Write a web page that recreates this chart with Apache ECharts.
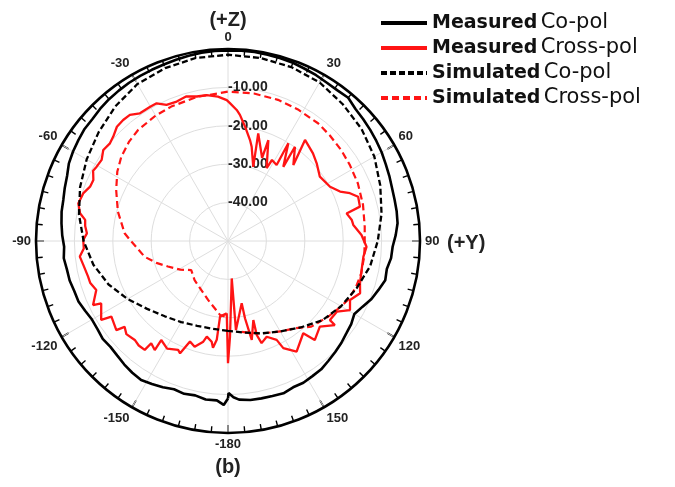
<!DOCTYPE html>
<html><head><meta charset="utf-8">
<script src="https://cdn.jsdelivr.net/npm/echarts@6/dist/echarts.min.js"></script>
<style>html,body{margin:0;padding:0;background:#fff}#c{width:675px;height:487px}</style>
</head><body><div id="c"></div>
<script>
// ---- data: [angle in degrees, level in dB] ----
const angleTickLabels = [0, 30, 60, 90, 120, 150, -180, -150, -120, -90, -60, -30];
const radialTickLabels = [-40, -30, -20, -10];
const seriesNames = ['Measured Co-pol', 'Measured Cross-pol', 'Simulated Co-pol', 'Simulated Cross-pol'];

const measuredCoPol = [
  [-180,-9.0],[-179.5,-8.5],[-178.5,-7.3],[-176,-8.4],[-172,-8.3],[-168,-8.9],[-164,-8.6],[-160,-8.9],[-156,-8.3],
  [-152,-7.8],[-148,-7.3],[-144,-7.6],[-140,-8.0],[-136,-8.5],[-132,-8.8],[-128,-8.6],[-124,-9.0],[-120,-9.1],
  [-116,-8.6],[-112,-8.0],[-108,-7.9],[-104,-7.5],[-100,-7.4],[-96,-7.0],[-92,-7.3],[-88,-6.8],[-84,-6.4],
  [-80,-6.0],[-76,-5.8],[-72,-5.3],[-68,-4.8],[-64,-3.9],[-60,-3.4],[-56,-3.0],[-52,-2.6],[-48,-2.5],[-44,-2.1],
  [-40,-1.8],[-36,-1.6],[-32,-1.4],[-28,-1.3],[-24,-1.2],[-20,-1.1],[-16,-0.9],[-12,-0.7],[-8,-0.5],[-4,-0.4],
  [0,-0.4],[4,-0.3],[8,-0.3],[12,-0.4],[16,-0.5],[20,-0.6],[24,-0.9],[28,-1.1],[32,-1.4],[36,-1.5],[40,-1.3],
  [44,-2.2],[48,-2.6],[52,-3.0],[56,-3.4],[60,-3.8],[64,-4.3],[68,-4.7],[72,-5.1],[76,-5.3],[80,-5.4],[84,-5.6],
  [88,-6.3],[92,-7.1],[96,-7.3],[100,-8.0],[104,-7.8],[108,-8.8],[112,-9.7],[116,-11.0],[120,-12.0],[124,-11.3],
  [128,-10.9],[132,-10.3],[136,-9.8],[140,-9.3],[144,-8.7],[148,-8.5],[152,-8.2],[156,-8.3],[160,-7.8],[164,-8.0],
  [168,-8.1],[172,-8.2],[176,-8.6],[178,-9.3],[179.8,-10.4],[180,-9.0]
];

const measuredCrossPol = [
  [-179,-31.2],[-174,-30.2],[-173.5,-24.1],[-172,-21.9],[-170.8,-23.4],[-167.5,-24.5],[-166.2,-23],[-164.9,-23.3],
  [-162.5,-21.1],[-159.3,-22],[-156.9,-18.2],[-155.4,-18.8],[-150.5,-17.8],[-146,-18.9],[-146.1,-15.8],[-143.1,-16.7],
  [-142.6,-14.3],[-139.5,-14.2],[-136.7,-14.6],[-132.5,-14.1],[-129.7,-15],[-128.6,-12.8],[-123,-13.8],[-121.9,-11.1],
  [-116.2,-13.2],[-115.4,-11.1],[-110.4,-13.4],[-107,-12.5],[-104.3,-12.4],[-100,-11.9],[-96,-11.2],[-93,-12.4],
  [-89.6,-12.3],[-86.9,-13.2],[-84,-12.6],[-81.6,-12.4],[-79.4,-10.8],[-75.9,-9.8],[-71.8,-10.3],[-68.5,-11.4],
  [-65.6,-11.5],[-62.5,-10.4],[-60.5,-10.7],[-57.3,-10.9],[-53.9,-9.8],[-50.4,-10.1],[-47.7,-9.6],[-44.2,-8.5],
  [-40.9,-8.3],[-37.9,-8.4],[-34.6,-9.6],[-30.1,-9.6],[-27.4,-9.6],[-24.3,-11.1],[-20.2,-11.3],[-16,-10.8],
  [-12.2,-11.5],[-8.3,-11.6],[-4,-12.3],[-0.5,-13.3],[0.8,-14.1],[3.8,-15.8],[5.4,-17],[8.5,-19.9],[12.3,-23.1],
  [14.1,-24.7],[18.8,-29.6],[15.7,-20.9],[22.3,-26.6],[21.8,-21.7],[27.9,-28.5],[28.5,-26],[32.6,-26.5],[31.7,-20.1],
  [36.7,-25.9],[35.4,-19.9],[40.7,-23.9],[37.3,-16.9],[44.1,-18.2],[48.8,-19.3],[55,-20.8],[62,-19.9],[66.2,-18.1],
  [68.6,-15.9],[71.2,-14.2],[75.4,-14.5],[76.9,-18.3],[80.4,-17.3],[82.7,-17.1],[87.4,-15.2],[92.4,-13.9],[96.6,-14.5],
  [102.2,-14.4],[107.8,-13.9],[111.6,-13],[115.8,-14.7],[119.5,-13.5],[123,-16.2],[127.8,-16.4],[128.2,-14.6],
  [133,-17.3],[138.8,-15.7],[140.8,-19],[148.2,-16.1],[152.7,-18.6],[153.8,-21.3],[158,-23.1],[161.8,-22],
  [163,-24.4],[162.2,-28.4],[166.5,-23.5],[167.6,-29.4],[167.6,-33.4],[174.9,-26.7],[174.3,-40.2],[178.8,-25.1],
  [180,-18.2],[-179,-31.2]
];

const simulatedCoPol = [
  [-180,-26.6],[-170,-26.8],[-160,-26.5],[-150,-25.6],[-140,-24.4],[-130,-22.5],[-120,-19.8],[-110,-16.9],
  [-100,-14.4],[-90,-12.4],[-80,-10.6],[-70,-9.0],[-60,-7.5],[-50,-6.0],[-40,-4.3],[-30,-2.8],[-20,-2.1],
  [-10,-1.6],[0,-1.5],[10,-1.6],[20,-1.8],[30,-2.3],[40,-3.5],[50,-4.6],[60,-6.0],[70,-7.8],[80,-9.4],
  [90,-11.0],[100,-12.4],[110,-14.3],[120,-16.0],[130,-17.9],[140,-20.6],[150,-22.8],[160,-24.4],[170,-25.8],[180,-26.6]
];

const simulatedCrossPol = [
  [-177.5,-30.3],[-174,-30.6],[-161.3,-33.8],[-139.5,-36.6],[-128.3,-37.8],[-121,-35.5],[-113,-33],[-107,-30.5],
  [-100.7,-27.9],[-89.4,-24.5],[-85.7,-23],[-75,-20.3],[-65.5,-18],[-58,-16],[-51.7,-14.6],[-45,-13.5],[-39,-12.8],
  [-30,-12.3],[-22.9,-12],[-12,-11.6],[-3.9,-11.5],[0,-11.1],[10,-11],[19.5,-11],[28,-11.2],[37.4,-11.4],[44,-11.8],
  [51.2,-12.2],[58,-12.6],[66.1,-13],[75,-13.6],[84,-14.2],[90,-14.4],[96,-14.3],[103.6,-14.3],[110,-14.6],
  [116.2,-15.2],[121,-16.2],[127.1,-17.3],[135.8,-18.9],[142.6,-21.4],[150,-22.8],[160.2,-24.4],[167,-25.5],[172.5,-26.2]
];

// ---- build ----
const toPolar = arr => arr.map(([a, v]) => [v, a < 0 ? a + 360 : a]);
const angleLabel = v => {
  const a = v > 180 ? v - 360 : (v === 180 ? -180 : v);
  return angleTickLabels.indexOf(a) >= 0 ? String(a) : '';
};

const chart = echarts.init(document.getElementById('c'));
const RED = '#ff1414';
chart.setOption({
  animation: false,
  backgroundColor: '#fff',
  polar: { center: [228, 241], radius: 192 },
  angleAxis: {
    type: 'value', min: 0, max: 360, interval: 30, startAngle: 90, clockwise: true,
    axisLine: { lineStyle: { color: '#000', width: 2.6 } },
    axisTick: { show: true, inside: true, length: 8, lineStyle: { color: '#000', width: 1.6 } },
    minorTick: { show: true, splitNumber: 6, length: 6, lineStyle: { color: '#000', width: 1.4 } },
    axisLabel: { margin: 5, fontSize: 13, fontWeight: 'bold', color: '#222', fontFamily: 'Liberation Sans', formatter: angleLabel },
    splitLine: { show: true, lineStyle: { color: '#dedede', width: 1 } }
  },
  radiusAxis: {
    type: 'value', min: -50, max: 0, interval: 10,
    axisLine: { show: false }, axisTick: { show: false },
    axisLabel: {
      margin: 0, align: 'left', verticalAlign: 'middle',
      fontSize: 14, fontWeight: 'bold', color: '#222', fontFamily: 'Liberation Sans',
      formatter: v => radialTickLabels.indexOf(v) >= 0 ? v.toFixed(2) : ''
    },
    splitLine: { show: true, lineStyle: { color: '#dedede', width: 1 } }
  },
  legend: {
    orient: 'vertical', left: 374, top: 7, itemWidth: 46, itemHeight: 14, itemGap: 3,
    data: seriesNames,
    lineStyle: { width: 4 },
    itemStyle: { opacity: 0 },
    formatter: name => { const p = name.split(' '); return '{b|' + p[0] + '} {r|' + p[1] + '}'; },
    textStyle: {
      color: '#111', lineHeight: 22,
      rich: {
        b: { fontFamily: 'DejaVu Sans', fontWeight: 'bold', fontSize: 19, color: '#111' },
        r: { fontFamily: 'DejaVu Sans', fontSize: 21, color: '#111' }
      }
    }
  },
  graphic: [
    { type: 'text', x: 228, y: 20, style: { text: '(+Z)', align: 'center', verticalAlign: 'middle', font: 'bold 20px "Liberation Sans"', fill: '#222' } },
    { type: 'text', x: 447, y: 243, style: { text: '(+Y)', align: 'left', verticalAlign: 'middle', font: 'bold 20px "Liberation Sans"', fill: '#222' } },
    { type: 'text', x: 228, y: 467, style: { text: '(b)', align: 'center', verticalAlign: 'middle', font: 'bold 20px "Liberation Sans"', fill: '#222' } }
  ],
  series: [
    { name: seriesNames[3], type: 'line', coordinateSystem: 'polar', symbol: 'none', z: 2,
      data: toPolar(simulatedCrossPol), lineStyle: { color: RED, width: 2.2, type: [7, 4] }, itemStyle: { color: RED } },
    { name: seriesNames[1], type: 'line', coordinateSystem: 'polar', symbol: 'none', z: 3,
      data: toPolar(measuredCrossPol), lineStyle: { color: RED, width: 2.3 }, itemStyle: { color: RED } },
    { name: seriesNames[2], type: 'line', coordinateSystem: 'polar', symbol: 'none', z: 4,
      data: toPolar(simulatedCoPol), lineStyle: { color: '#000', width: 2.3, type: [6, 3] }, itemStyle: { color: '#000' } },
    { name: seriesNames[0], type: 'line', coordinateSystem: 'polar', symbol: 'none', z: 5,
      data: toPolar(measuredCoPol), lineStyle: { color: '#000', width: 2.6 }, itemStyle: { color: '#000' } }
  ]
});
</script>
</body></html>
